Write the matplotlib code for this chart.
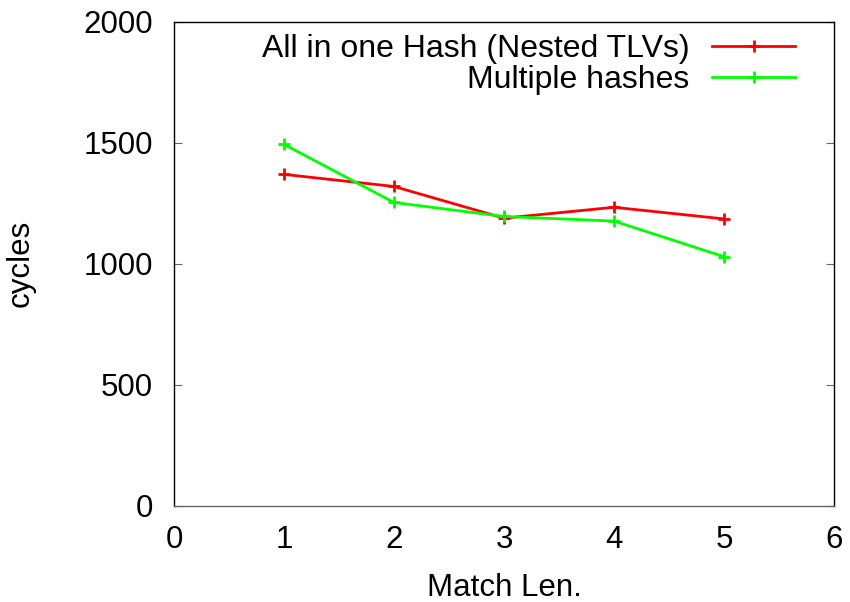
import matplotlib
matplotlib.use("Agg")
import matplotlib.pyplot as plt

plt.rcParams['font.family'] = ['Liberation Sans', 'DejaVu Sans']

# values
match_len = [1, 2, 3, 4, 5]
one_hash = [1369, 1319, 1188, 1233, 1185]
multi_hash = [1493, 1253, 1195, 1176, 1029]

fig = plt.figure(figsize=(8.5, 6.02), dpi=100)
ax = fig.add_axes([0.2047, 0.16, 0.7765, 0.804])

ax.plot(match_len, one_hash, color='#ff0000', lw=2, marker='+', ms=8, mew=2,
        label='All in one Hash (Nested TLVs)')
ax.plot(match_len, multi_hash, color='#00ff00', lw=2, marker='+', ms=8, mew=2,
        label='Multiple hashes')

ax.set_xlim(0, 6)
ax.set_ylim(0, 2000)
ax.set_xticks(range(0, 7))
ax.set_yticks(range(0, 2001, 500))
ax.tick_params(axis='x', length=0, pad=14, labelsize=22.5)
ax.tick_params(axis='y', direction='in', length=6, width=0.8, color='#666666',
               right=True, pad=15, labelsize=22.5)
for s in ax.spines.values():
    s.set_linewidth(1.0)
ax.spines['bottom'].set_color('#666666')

ax.set_xlabel('Match Len.', fontsize=22.5)
ax.xaxis.set_label_coords(0.5, -0.14)
ax.set_ylabel('cycles', fontsize=22.5)
ax.yaxis.set_label_coords(-0.21, 0.5)

ax.legend(loc='upper right', bbox_to_anchor=(0.941, 0.975), frameon=False,
          markerfirst=False, fontsize=23, handlelength=2.6, borderpad=0,
          borderaxespad=0, labelspacing=0.05, handletextpad=0.7)

fig.savefig('out.png', dpi=100)
